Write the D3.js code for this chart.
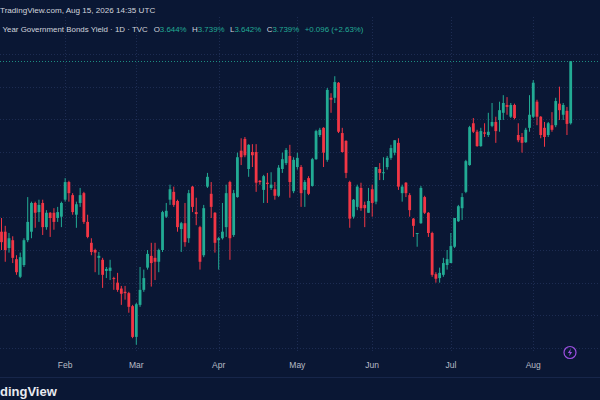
<!DOCTYPE html>
<html>
<head>
<meta charset="utf-8">
<script src="https://cdn.jsdelivr.net/npm/d3@7"></script>
<style>
  html, body { margin: 0; padding: 0; background: #0a1734; }
  svg { display: block; }
  text { font-family: "Liberation Sans", Arial, sans-serif; }
</style>
</head>
<body>
<div id="chart"></div>
<script>
// daily bars, yield in %
var opens = [
  3.478, 3.478, 3.453, 3.465, 3.436, 3.409, 3.427, 3.465, 3.478, 3.522,
  3.508, 3.522, 3.485, 3.507, 3.507, 3.499, 3.501, 3.527, 3.554, 3.534,
  3.504, 3.522, 3.537, 3.493, 3.461, 3.450, 3.438, 3.435, 3.418, 3.418,
  3.407, 3.400, 3.391, 3.386, 3.384, 3.364, 3.317, 3.366, 3.389, 3.423,
  3.441, 3.438, 3.432, 3.450, 3.501, 3.527, 3.539, 3.525, 3.482, 3.491,
  3.468, 3.547, 3.508, 3.485, 3.442, 3.547, 3.536, 3.507, 3.465, 3.468,
  3.485, 3.554, 3.473, 3.531, 3.602, 3.620, 3.574, 3.600, 3.600, 3.556,
  3.542, 3.553, 3.545, 3.543, 3.533, 3.574, 3.583, 3.594, 3.540, 3.577,
  3.577, 3.542, 3.560, 3.548, 3.589, 3.626, 3.637, 3.588, 3.683, 3.683,
  3.706, 3.629, 3.617, 3.554, 3.501, 3.516, 3.545, 3.519, 3.507, 3.543,
  3.524, 3.574, 3.568, 3.577, 3.591, 3.599, 3.614, 3.537, 3.553, 3.534,
  3.498, 3.475, 3.491, 3.531, 3.507, 3.476, 3.413, 3.407, 3.412, 3.427,
  3.430, 3.455, 3.494, 3.514, 3.539, 3.580, 3.644, 3.631, 3.609, 3.630,
  3.626, 3.640, 3.646, 3.649, 3.660, 3.672, 3.654, 3.672, 3.626, 3.623,
  3.615, 3.637, 3.654, 3.677, 3.654, 3.637, 3.626, 3.641, 3.641, 3.674,
  3.657, 3.663, 3.644
];
var highs = [
  3.499, 3.487, 3.476, 3.471, 3.442, 3.446, 3.468, 3.531, 3.524, 3.524,
  3.527, 3.527, 3.511, 3.508, 3.514, 3.516, 3.524, 3.560, 3.556, 3.537,
  3.524, 3.545, 3.539, 3.504, 3.468, 3.452, 3.447, 3.438, 3.424, 3.435,
  3.409, 3.415, 3.395, 3.395, 3.386, 3.366, 3.369, 3.424, 3.420, 3.450,
  3.461, 3.461, 3.452, 3.510, 3.522, 3.550, 3.547, 3.527, 3.493, 3.522,
  3.542, 3.548, 3.530, 3.487, 3.519, 3.568, 3.554, 3.508, 3.470, 3.522,
  3.550, 3.556, 3.542, 3.599, 3.621, 3.623, 3.612, 3.612, 3.612, 3.557,
  3.565, 3.568, 3.569, 3.554, 3.580, 3.599, 3.606, 3.611, 3.592, 3.599,
  3.580, 3.557, 3.563, 3.591, 3.634, 3.637, 3.638, 3.698, 3.690, 3.716,
  3.707, 3.637, 3.618, 3.556, 3.528, 3.550, 3.553, 3.524, 3.545, 3.550,
  3.577, 3.583, 3.592, 3.594, 3.611, 3.618, 3.621, 3.550, 3.554, 3.537,
  3.499, 3.476, 3.548, 3.533, 3.508, 3.478, 3.416, 3.423, 3.438, 3.450,
  3.476, 3.499, 3.519, 3.537, 3.588, 3.640, 3.652, 3.634, 3.637, 3.644,
  3.660, 3.675, 3.654, 3.677, 3.687, 3.684, 3.675, 3.674, 3.644, 3.629,
  3.637, 3.687, 3.710, 3.680, 3.655, 3.646, 3.646, 3.661, 3.683, 3.700,
  3.675, 3.669, 3.739
];
var lows = [
  3.450, 3.432, 3.446, 3.430, 3.412, 3.407, 3.424, 3.462, 3.468, 3.484,
  3.493, 3.473, 3.481, 3.470, 3.481, 3.493, 3.485, 3.524, 3.524, 3.504,
  3.484, 3.516, 3.490, 3.468, 3.442, 3.416, 3.412, 3.392, 3.407, 3.404,
  3.389, 3.386, 3.366, 3.374, 3.354, 3.315, 3.305, 3.363, 3.386, 3.420,
  3.394, 3.404, 3.416, 3.447, 3.499, 3.519, 3.516, 3.478, 3.447, 3.455,
  3.461, 3.508, 3.488, 3.420, 3.439, 3.545, 3.499, 3.446, 3.420, 3.466,
  3.470, 3.435, 3.470, 3.530, 3.580, 3.592, 3.562, 3.577, 3.539, 3.550,
  3.522, 3.522, 3.542, 3.527, 3.531, 3.568, 3.580, 3.530, 3.537, 3.573,
  3.516, 3.516, 3.534, 3.547, 3.588, 3.623, 3.577, 3.585, 3.660, 3.675,
  3.629, 3.599, 3.560, 3.484, 3.498, 3.511, 3.510, 3.485, 3.507, 3.501,
  3.520, 3.557, 3.557, 3.573, 3.588, 3.595, 3.542, 3.524, 3.531, 3.501,
  3.470, 3.455, 3.490, 3.505, 3.470, 3.409, 3.400, 3.400, 3.409, 3.420,
  3.430, 3.453, 3.493, 3.496, 3.537, 3.579, 3.629, 3.608, 3.608, 3.623,
  3.623, 3.638, 3.614, 3.631, 3.649, 3.657, 3.652, 3.650, 3.615, 3.599,
  3.614, 3.631, 3.652, 3.641, 3.621, 3.608, 3.623, 3.631, 3.638, 3.649,
  3.649, 3.626, 3.642
];
var closes = [
  3.462, 3.450, 3.468, 3.438, 3.416, 3.439, 3.465, 3.493, 3.522, 3.507,
  3.519, 3.485, 3.507, 3.499, 3.493, 3.508, 3.522, 3.554, 3.537, 3.508,
  3.520, 3.534, 3.493, 3.470, 3.447, 3.446, 3.441, 3.412, 3.421, 3.423,
  3.406, 3.389, 3.383, 3.384, 3.363, 3.317, 3.367, 3.389, 3.407, 3.444,
  3.430, 3.432, 3.450, 3.508, 3.510, 3.543, 3.519, 3.485, 3.491, 3.462,
  3.537, 3.516, 3.505, 3.432, 3.514, 3.562, 3.516, 3.461, 3.468, 3.478,
  3.537, 3.468, 3.537, 3.592, 3.592, 3.595, 3.611, 3.595, 3.553, 3.554,
  3.563, 3.551, 3.550, 3.533, 3.576, 3.589, 3.603, 3.554, 3.588, 3.591,
  3.537, 3.554, 3.536, 3.589, 3.632, 3.634, 3.599, 3.695, 3.680, 3.707,
  3.631, 3.600, 3.568, 3.498, 3.527, 3.547, 3.514, 3.514, 3.525, 3.522,
  3.577, 3.568, 3.569, 3.591, 3.606, 3.618, 3.547, 3.547, 3.537, 3.511,
  3.487, 3.476, 3.545, 3.507, 3.476, 3.412, 3.406, 3.415, 3.430, 3.436,
  3.456, 3.499, 3.517, 3.531, 3.586, 3.638, 3.631, 3.609, 3.632, 3.628,
  3.631, 3.646, 3.632, 3.664, 3.675, 3.669, 3.672, 3.652, 3.618, 3.614,
  3.634, 3.657, 3.706, 3.654, 3.626, 3.623, 3.644, 3.634, 3.678, 3.664,
  3.672, 3.643, 3.739
];

// month labels and the bar each month starts on
var monthLabels = ["Feb", "Mar", "Apr", "May", "Jun", "Jul", "Aug"];
var monthFirstBar = [17, 36, 58, 79, 99, 120, 142];

var headerTitle = "TradingView.com, Aug 15, 2026 14:35 UTC";
var symbolName = "Year Government Bonds Yield \u00b7 1D \u00b7 TVC";
var legendKeys = ["O", "H", "L", "C"];
var legendValues = ["3.644%", "3.739%", "3.642%", "3.739%"];
var legendChange = "+0.096 (+2.63%)";

var upColor = "#22ab94";
var downColor = "#f23645";
var gridColor = "#1d2c52";

function createChart(div) {
    var W = 600, H = 400;
    var n = closes.length;

    var svg = d3.select(div)
        .append("svg")
        .attr("width", W)
        .attr("height", H);

    svg.append("rect")
        .attr("width", W)
        .attr("height", H)
        .attr("fill", "#0a1734");

    var x = d3.scaleLinear().domain([0, n - 1]).range([1.5, 570.7]);
    var y = d3.scaleLinear().domain([3.30, 3.75]).range([348, 54]);

    // horizontal grid
    svg.selectAll(".hgrid")
        .data(y.ticks(10))
        .enter()
        .append("line")
        .attr("x1", 0)
        .attr("x2", W)
        .attr("y1", function(d) { return Math.round(y(d)) + 0.5; })
        .attr("y2", function(d) { return Math.round(y(d)) + 0.5; })
        .attr("stroke", gridColor)
        .attr("stroke-dasharray", "1,2");

    // vertical grid at month starts
    svg.selectAll(".vgrid")
        .data(monthFirstBar)
        .enter()
        .append("line")
        .attr("x1", function(d) { return Math.round(x(d)) + 0.5; })
        .attr("x2", function(d) { return Math.round(x(d)) + 0.5; })
        .attr("y1", 17)
        .attr("y2", 352)
        .attr("stroke", gridColor)
        .attr("stroke-dasharray", "1,2");

    // last price line
    var lastY = Math.round(y(closes[n - 1])) + 0.5;
    svg.append("line")
        .attr("x1", 0)
        .attr("x2", W)
        .attr("y1", lastY)
        .attr("y2", lastY)
        .attr("stroke", upColor)
        .attr("stroke-opacity", 0.8)
        .attr("stroke-dasharray", "1,2");

    var idx = d3.range(n);
    function col(i) { return closes[i] >= opens[i] ? upColor : downColor; }

    svg.selectAll(".wick")
        .data(idx)
        .enter()
        .append("line")
        .attr("x1", function(i) { return x(i); })
        .attr("x2", function(i) { return x(i); })
        .attr("y1", function(i) { return y(highs[i]); })
        .attr("y2", function(i) { return y(lows[i]); })
        .attr("stroke", col)
        .attr("stroke-width", 1);

    var bw = 2.8;
    svg.selectAll(".body")
        .data(idx)
        .enter()
        .append("rect")
        .attr("x", function(i) { return x(i) - bw / 2; })
        .attr("y", function(i) { return y(Math.max(opens[i], closes[i])); })
        .attr("width", bw)
        .attr("height", function(i) {
            return Math.max(1, Math.abs(y(opens[i]) - y(closes[i])));
        })
        .attr("fill", col);

    // time axis
    svg.selectAll(".month")
        .data(monthFirstBar)
        .enter()
        .append("text")
        .attr("x", function(d) { return x(d); })
        .attr("y", 368)
        .attr("text-anchor", "middle")
        .attr("font-size", 8.5)
        .attr("fill", "#b8bcc6")
        .text(function(d, i) { return monthLabels[i]; });

    svg.append("line")
        .attr("x1", 0)
        .attr("x2", W)
        .attr("y1", 377.5)
        .attr("y2", 377.5)
        .attr("stroke", "#17264a");

    // header
    svg.append("text")
        .attr("x", 0)
        .attr("y", 13)
        .attr("font-size", 8.1)
        .attr("fill", "#d1d4dc")
        .text(headerTitle);

    var legend = svg.append("text")
        .attr("x", 2.5)
        .attr("y", 31.5)
        .attr("font-size", 7.9)
        .attr("fill", "#d1d4dc");
    legend.append("tspan").text(symbolName);
    legendKeys.forEach(function(k, i) {
        legend.append("tspan").attr("dx", i == 0 ? 6 : 5.5).text(k);
        legend.append("tspan").attr("fill", upColor).text(legendValues[i]);
    });
    legend.append("tspan").attr("dx", 5.5).attr("fill", upColor).text(legendChange);

    // footer logo text
    svg.append("text")
        .attr("x", 0)
        .attr("y", 396)
        .attr("font-size", 13)
        .attr("font-weight", "bold")
        .attr("fill", "#e8eaf0")
        .text("dingView");

    // lightning badge
    var badge = svg.append("g").attr("transform", "translate(570,352.5)");
    badge.append("circle")
        .attr("r", 6)
        .attr("fill", "none")
        .attr("stroke", "#9c4fe0")
        .attr("stroke-width", 1.2);
    badge.append("path")
        .attr("d", "M0.8,-3.8 L-2.2,0.6 L-0.2,0.6 L-0.8,3.8 L2.2,-0.6 L0.2,-0.6 Z")
        .attr("fill", "#9c4fe0");
}

function start() {
    createChart('#chart');
}
start();
</script>
</body>
</html>
